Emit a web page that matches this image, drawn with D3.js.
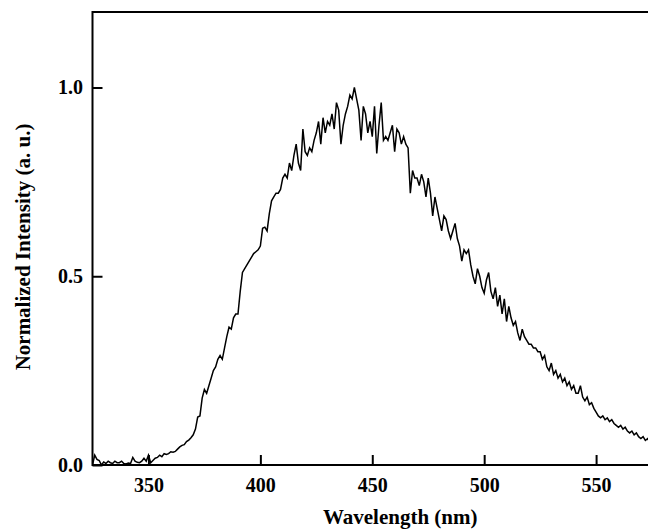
<!DOCTYPE html>
<html>
<head>
<meta charset="utf-8">
<script src="https://cdn.jsdelivr.net/npm/d3@7"></script>
<style>
  body { margin: 0; background: #fff; }
  svg { display: block; }
  .axis text { font-family: "Liberation Serif", "Times New Roman", serif; font-weight: bold; font-size: 20px; fill: #000; }
  .axis path, .axis line { stroke: #000; stroke-width: 2px; }
  .title { font-family: "Liberation Serif", "Times New Roman", serif; font-weight: bold; font-size: 21px; fill: #000; }
</style>
</head>
<body>
<div id="chart"></div>
<script>
// emission spectrum, 1 nm steps starting at 325 nm
var startNm = 325;
var intensity = [
  0.000, 0.026, 0.015, 0.012, 0.000, 0.008, 0.004, 0.010, 0.006, 0.004,
  0.010, 0.006, 0.006, 0.010, 0.004, 0.003, 0.005, 0.004, 0.020, 0.010,
  0.007, 0.006, 0.010, 0.018, 0.010, 0.026, 0.006, 0.012, 0.018, 0.020,
  0.026, 0.022, 0.030, 0.028, 0.030, 0.035, 0.034, 0.036, 0.042, 0.048,
  0.052, 0.054, 0.062, 0.066, 0.072, 0.080, 0.095, 0.127, 0.130, 0.177,
  0.200, 0.190, 0.210, 0.230, 0.250, 0.260, 0.280, 0.290, 0.280, 0.310,
  0.340, 0.365, 0.360, 0.390, 0.400, 0.400, 0.460, 0.510, 0.520, 0.530,
  0.540, 0.550, 0.560, 0.565, 0.570, 0.580, 0.627, 0.630, 0.620, 0.666,
  0.700, 0.710, 0.720, 0.720, 0.730, 0.760, 0.770, 0.760, 0.800, 0.780,
  0.820, 0.850, 0.800, 0.780, 0.890, 0.830, 0.820, 0.840, 0.830, 0.860,
  0.880, 0.910, 0.850, 0.920, 0.880, 0.910, 0.900, 0.930, 0.890, 0.960,
  0.940, 0.850, 0.900, 0.930, 0.950, 0.980, 0.970, 1.000, 0.970, 0.940,
  0.860, 0.950, 0.930, 0.880, 0.910, 0.870, 0.950, 0.825, 0.900, 0.960,
  0.860, 0.870, 0.860, 0.880, 0.900, 0.830, 0.890, 0.880, 0.850, 0.870,
  0.850, 0.840, 0.720, 0.780, 0.760, 0.760, 0.740, 0.770, 0.750, 0.710,
  0.760, 0.720, 0.660, 0.710, 0.680, 0.650, 0.620, 0.660, 0.650, 0.620,
  0.600, 0.620, 0.640, 0.600, 0.580, 0.540, 0.570, 0.560, 0.570, 0.530,
  0.500, 0.480, 0.520, 0.500, 0.470, 0.455, 0.490, 0.510, 0.460, 0.440,
  0.470, 0.420, 0.450, 0.400, 0.440, 0.380, 0.420, 0.390, 0.370, 0.380,
  0.350, 0.330, 0.360, 0.340, 0.330, 0.320, 0.320, 0.310, 0.310, 0.300,
  0.300, 0.280, 0.290, 0.260, 0.250, 0.270, 0.240, 0.250, 0.230, 0.240,
  0.220, 0.230, 0.210, 0.220, 0.200, 0.210, 0.190, 0.190, 0.210, 0.180,
  0.170, 0.180, 0.160, 0.165, 0.150, 0.140, 0.130, 0.125, 0.130, 0.120,
  0.125, 0.115, 0.120, 0.110, 0.105, 0.100, 0.105, 0.095, 0.100, 0.090,
  0.085, 0.090, 0.080, 0.085, 0.075, 0.070, 0.075, 0.065, 0.070, 0.060, 0.065
];
var xTicks = [350, 400, 450, 500, 550];
var yTicks = [0.0, 0.5, 1.0];

var W = 648, H = 529;
var margin = { top: 12, left: 92.5 },
    plotRight = 708,   // frame runs past the right edge of the picture
    plotBottom = 465;

var svg = d3.select("#chart")
    .append("svg")
    .attr("width", W)
    .attr("height", H);

var x = d3.scaleLinear().domain([325, 600]).range([margin.left, plotRight]);
var y = d3.scaleLinear().domain([0, 1.2]).range([plotBottom, margin.top]);

// frame
svg.append("rect")
    .attr("x", margin.left)
    .attr("y", margin.top)
    .attr("width", plotRight - margin.left)
    .attr("height", plotBottom - margin.top)
    .attr("fill", "none")
    .attr("stroke", "#000")
    .attr("stroke-width", 2);

// X axis, ticks pointing inward
var xAxis = svg.append("g")
    .attr("class", "axis")
    .attr("transform", "translate(0," + plotBottom + ")")
    .call(d3.axisBottom(x).tickValues(xTicks).tickSizeInner(-10).tickSizeOuter(0).tickPadding(13)
        .tickFormat(d3.format("d")));
xAxis.select(".domain").remove();

// Y axis
var yAxis = svg.append("g")
    .attr("class", "axis")
    .attr("transform", "translate(" + margin.left + ",0)")
    .call(d3.axisLeft(y).tickValues(yTicks).tickSizeInner(-10).tickSizeOuter(0).tickPadding(9.5)
        .tickFormat(d3.format(".1f")));
yAxis.select(".domain").remove();

// clip for the curve
svg.append("clipPath").attr("id", "plot-clip")
    .append("rect")
    .attr("x", margin.left)
    .attr("y", margin.top)
    .attr("width", plotRight - margin.left)
    .attr("height", plotBottom - margin.top);

var line = d3.line()
    .x(function (d, i) { return x(startNm + i); })
    .y(function (d) { return y(d); });

svg.append("path")
    .datum(intensity)
    .attr("clip-path", "url(#plot-clip)")
    .attr("fill", "none")
    .attr("stroke", "#000")
    .attr("stroke-width", 1.5)
    .attr("stroke-linejoin", "miter")
    .attr("d", line);

// axis titles
svg.append("text")
    .attr("class", "title")
    .attr("x", (margin.left + plotRight) / 2)
    .attr("y", 524)
    .attr("text-anchor", "middle")
    .text("Wavelength (nm)");

svg.append("text")
    .attr("class", "title")
    .attr("transform", "translate(30," + 247 + ") rotate(-90)")
    .attr("text-anchor", "middle")
    .text("Normalized Intensity (a. u.)");
</script>
</body>
</html>
